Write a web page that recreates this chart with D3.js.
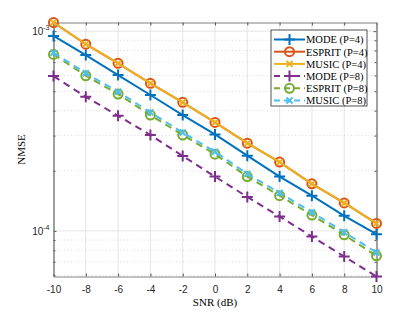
<!DOCTYPE html>
<html>
<head>
<meta charset="utf-8">
<script src="https://cdn.jsdelivr.net/npm/d3@7"></script>
<style>
  body { margin: 0; background: #fff; }
  svg { display: block; }
  .tick-label { font-family: "Liberation Sans", Arial, sans-serif; font-size: 10px; fill: #262626; }
  .serif { font-family: "Liberation Serif", "Times New Roman", serif; fill: #000; }
</style>
</head>
<body>
<svg id="chart" width="415" height="312"></svg>
<script>
// SNR grid (dB)
const snr = [-10, -8, -6, -4, -2, 0, 2, 4, 6, 8, 10];

// NMSE
const modeP4 = [9.47e-4, 7.59e-4, 6.03e-4, 4.79e-4, 3.80e-4, 3.04e-4, 2.38e-4, 1.87e-4, 1.50e-4, 1.19e-4, 9.63e-5];
const espritP4 = [1.105e-3, 8.61e-4, 6.90e-4, 5.48e-4, 4.40e-4, 3.49e-4, 2.75e-4, 2.21e-4, 1.72e-4, 1.38e-4, 1.09e-4];
const musicP4 = [1.105e-3, 8.61e-4, 6.90e-4, 5.48e-4, 4.40e-4, 3.49e-4, 2.75e-4, 2.21e-4, 1.72e-4, 1.38e-4, 1.09e-4];
const modeP8 = [5.96e-4, 4.69e-4, 3.77e-4, 3.02e-4, 2.37e-4, 1.87e-4, 1.48e-4, 1.18e-4, 9.37e-5, 7.44e-5, 5.91e-5];
const espritP8 = [7.65e-4, 5.98e-4, 4.84e-4, 3.80e-4, 3.02e-4, 2.42e-4, 1.87e-4, 1.50e-4, 1.20e-4, 9.55e-5, 7.50e-5];
const musicP8 = [7.80e-4, 6.15e-4, 4.98e-4, 3.92e-4, 3.11e-4, 2.49e-4, 1.93e-4, 1.55e-4, 1.24e-4, 9.85e-5, 7.80e-5];

const seriesNames = ['MODE (P=4)', 'ESPRIT (P=4)', 'MUSIC (P=4)', 'MODE (P=8)', 'ESPRIT (P=8)', 'MUSIC (P=8)'];
const xTicks = [-10, -8, -6, -4, -2, 0, 2, 4, 6, 8, 10];
const yMajor = [1e-4, 1e-3];

const series = [
  {name: seriesNames[0], values: modeP4, color: '#0072BD', marker: 'plus', dash: null},
  {name: seriesNames[1], values: espritP4, color: '#D95319', marker: 'circle', dash: null},
  {name: seriesNames[2], values: musicP4, color: '#EDB120', marker: 'cross', dash: null},
  {name: seriesNames[3], values: modeP8, color: '#7E2F8E', marker: 'plus', dash: '7,5'},
  {name: seriesNames[4], values: espritP8, color: '#77AC30', marker: 'circle', dash: '7,5'},
  {name: seriesNames[5], values: musicP8, color: '#4DBEEE', marker: 'cross', dash: '7,5'}
];

const svg = d3.select('#chart');
const pLeft = 53.5, pRight = 376.5, pTop = 22.5, pBottom = 276.5;

const x = d3.scaleLinear().domain([-10, 10]).range([pLeft, pRight]);
const allVals = series.flatMap(s => s.values);
const y = d3.scaleLog().domain(d3.extent(allVals)).range([pBottom, pTop]);

// minor ticks inside the domain
const minor = [];
[1e-5, 1e-4, 1e-3].forEach(dec => {
  for (let k = 2; k <= 9; k++) {
    const v = k * dec;
    if (v > y.domain()[0] && v < y.domain()[1]) minor.push(v);
  }
});

// grid
const grid = svg.append('g');
grid.selectAll('.vg').data(xTicks.slice(1, -1)).join('line')
  .attr('x1', d => x(d)).attr('x2', d => x(d)).attr('y1', pTop).attr('y2', pBottom)
  .attr('stroke', '#dedede').attr('stroke-width', 0.8);
grid.selectAll('.hg').data(yMajor).join('line')
  .attr('x1', pLeft).attr('x2', pRight).attr('y1', d => y(d)).attr('y2', d => y(d))
  .attr('stroke', '#dedede').attr('stroke-width', 0.8);
grid.selectAll('.mg').data(minor).join('line')
  .attr('x1', pLeft).attr('x2', pRight).attr('y1', d => y(d)).attr('y2', d => y(d))
  .attr('stroke', '#d0d0d0').attr('stroke-width', 0.8).attr('stroke-dasharray', '1,2.5');

// axes: bottom/left with labels, top/right ticks only
const axisColor = '#808080';
const xAxis = svg.append('g').attr('transform', `translate(0,${pBottom})`)
  .call(d3.axisBottom(x).tickValues(xTicks).tickSizeInner(-3).tickSizeOuter(0).tickPadding(9)
    .tickFormat(d => String(d)));
const xTop = svg.append('g').attr('transform', `translate(0,${pTop})`)
  .call(d3.axisTop(x).tickValues(xTicks).tickSizeInner(-3).tickSizeOuter(0).tickFormat(''));
const yAxis = svg.append('g').attr('transform', `translate(${pLeft},0)`)
  .call(d3.axisLeft(y).tickValues(yMajor).tickSizeInner(-3).tickSizeOuter(0).tickFormat(''));
const yRight = svg.append('g').attr('transform', `translate(${pRight},0)`)
  .call(d3.axisRight(y).tickValues(yMajor).tickSizeInner(-3).tickSizeOuter(0).tickFormat(''));
const yMinorL = svg.append('g').attr('transform', `translate(${pLeft},0)`)
  .call(d3.axisLeft(y).tickValues(minor).tickSizeInner(-2).tickSizeOuter(0).tickFormat(''));
const yMinorR = svg.append('g').attr('transform', `translate(${pRight},0)`)
  .call(d3.axisRight(y).tickValues(minor).tickSizeInner(-2).tickSizeOuter(0).tickFormat(''));
[xAxis, xTop, yAxis, yRight, yMinorL, yMinorR].forEach(a => {
  a.select('.domain').attr('stroke', axisColor);
  a.selectAll('.tick line').attr('stroke', '#555');
});
xAxis.selectAll('.tick text').attr('class', 'tick-label').attr('font-family', null).attr('font-size', null);

// y labels as 10^n
yMajor.forEach(v => {
  const t = svg.append('text').attr('class', 'tick-label')
    .attr('x', pLeft - 4).attr('y', y(v) + 4).attr('text-anchor', 'end');
  t.append('tspan').text('10');
  t.append('tspan').attr('dy', -5).attr('font-size', '7px').text(String(Math.round(Math.log10(v))));
});

// axis titles
svg.append('text').attr('class', 'serif').attr('font-size', '11px')
  .attr('x', (pLeft + pRight) / 2).attr('y', 305.5).attr('text-anchor', 'middle').text('SNR (dB)');
svg.append('text').attr('class', 'serif').attr('font-size', '11px')
  .attr('transform', `translate(25,${(pTop + pBottom) / 2}) rotate(-90)`)
  .attr('text-anchor', 'middle').text('NMSE');

// markers
function drawMarker(g, type, color, cx, cy) {
  if (type === 'plus') {
    g.append('path').attr('d', `M${cx - 5.5},${cy}H${cx + 5.5}M${cx},${cy - 5.5}V${cy + 5.5}`)
      .attr('stroke', color).attr('stroke-width', 2).attr('fill', 'none');
  } else if (type === 'circle') {
    g.append('circle').attr('cx', cx).attr('cy', cy).attr('r', 4.5)
      .attr('stroke', color).attr('stroke-width', 2).attr('fill', 'none');
  } else {
    g.append('path').attr('d', `M${cx - 3},${cy - 3}L${cx + 3},${cy + 3}M${cx - 3},${cy + 3}L${cx + 3},${cy - 3}`)
      .attr('stroke', color).attr('stroke-width', 2).attr('fill', 'none');
  }
}

const line = d3.line().x((d, i) => x(snr[i])).y(d => y(d));
const plot = svg.append('g');
series.forEach(s => {
  const g = plot.append('g');
  g.append('path').datum(s.values).attr('d', line)
    .attr('fill', 'none').attr('stroke', s.color).attr('stroke-width', 2)
    .attr('stroke-dasharray', s.dash);
  s.values.forEach((v, i) => drawMarker(g, s.marker, s.color, x(snr[i]), y(v)));
});

// legend
const lg = svg.append('g');
const lx = 271, ly = 30, lw = 96, lh = 76;
lg.append('rect').attr('x', lx).attr('y', ly).attr('width', lw).attr('height', lh)
  .attr('fill', '#fff').attr('stroke', '#262626').attr('stroke-width', 0.8);
series.forEach((s, i) => {
  const cy = ly + 9.5 + i * 12.2;
  lg.append('line').attr('x1', lx + 3).attr('x2', lx + 34).attr('y1', cy).attr('y2', cy)
    .attr('stroke', s.color).attr('stroke-width', 2).attr('stroke-dasharray', s.dash ? '6,4' : null);
  drawMarker(lg, s.marker, s.color, lx + 18.5, cy);
  lg.append('text').attr('class', 'serif').attr('font-size', '10.5px')
    .attr('x', lx + 35).attr('y', cy + 3.8).text(s.name);
});
</script>
</body>
</html>
